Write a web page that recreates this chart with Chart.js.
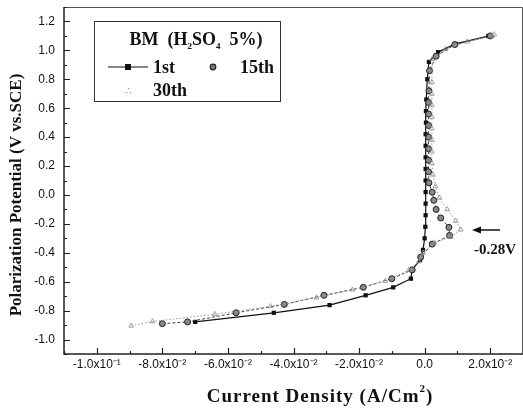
<!DOCTYPE html>
<html>
<head>
<meta charset="utf-8">
<script src="https://cdn.jsdelivr.net/npm/chart.js@4/dist/chart.umd.min.js"></script>
<style>
  html, body { margin: 0; padding: 0; background: #fff; }
  canvas { display: block; }
</style>
</head>
<body>
<canvas id="polChart" width="523" height="409"></canvas>
<script>
(function() {
    'use strict';

    // tick positions and labels
    const xTicks = [-0.1, -0.08, -0.06, -0.04, -0.02, 0, 0.02];
    const xTickLabels = ['-1.0x10\u207B\u00B9', '-8.0x10\u207B\u00B2', '-6.0x10\u207B\u00B2', '-4.0x10\u207B\u00B2', '-2.0x10\u207B\u00B2', '0.0', '2.0x10\u207B\u00B2'];
    const xMinorTicks = [-0.11, -0.09, -0.07, -0.05, -0.03, -0.01, 0.01, 0.03];
    const yTicks = [-1.0, -0.8, -0.6, -0.4, -0.2, 0.0, 0.2, 0.4, 0.6, 0.8, 1.0, 1.2];
    const yTickLabels = ['-1.0', '-0.8', '-0.6', '-0.4', '-0.2', '0.0', '0.2', '0.4', '0.6', '0.8', '1.0', '1.2'];
    const yMinorTicks = [-1.1, -0.9, -0.7, -0.5, -0.3, -0.1, 0.1, 0.3, 0.5, 0.7, 0.9, 1.1, 1.3];

    // 1st scan (A/cm2, V vs SCE)
    const firstX = [-0.070, -0.046, -0.029, -0.018, -0.0096, -0.0042, -0.0038, -0.0014, -0.0005, 0.0000, 0.0002, 0.0003, 0.0003, 0.0003, 0.0003, 0.0003, 0.0003, 0.0003, 0.0003, 0.0004, 0.0004, 0.0005, 0.0008, 0.0013, 0.0041, 0.0094, 0.0194];
    const firstY = [-0.878, -0.815, -0.762, -0.694, -0.639, -0.579, -0.518, -0.45, -0.38, -0.30, -0.22, -0.14, -0.06, 0.02, 0.10, 0.18, 0.26, 0.34, 0.42, 0.50, 0.58, 0.66, 0.80, 0.92, 0.988, 1.045, 1.099];

    // 15th scan
    const fifteenthX = [-0.080, -0.0723, -0.0575, -0.0428, -0.0307, -0.0187, -0.010, -0.0038, -0.0012, 0.0023, 0.0076, 0.0074, 0.0049, 0.0035, 0.0028, 0.0023, 0.0013, 0.0012, 0.0012, 0.0012, 0.0012, 0.0012, 0.0012, 0.0012, 0.0013, 0.0015, 0.0035, 0.0092, 0.0200];
    const fifteenthY = [-0.89, -0.878, -0.815, -0.757, -0.694, -0.639, -0.579, -0.518, -0.43, -0.34, -0.28, -0.224, -0.159, -0.10, -0.037, 0.019, 0.084, 0.16, 0.24, 0.32, 0.40, 0.48, 0.56, 0.64, 0.72, 0.86, 0.96, 1.04, 1.10];

    // 30th scan
    const thirtiethX = [-0.0895, -0.083, -0.064, -0.047, -0.033, -0.022, -0.012, -0.0048, -0.0017, -0.0005, 0.003, 0.008, 0.011, 0.0095, 0.0069, 0.0045, 0.0033, 0.0025, 0.0022, 0.0022, 0.0022, 0.0022, 0.0022, 0.0022, 0.0022, 0.0022, 0.0023, 0.0064, 0.013, 0.0206, 0.0212];
    const thirtiethY = [-0.905, -0.875, -0.825, -0.77, -0.71, -0.655, -0.595, -0.52, -0.46, -0.40, -0.33, -0.29, -0.24, -0.18, -0.10, -0.02, 0.06, 0.14, 0.22, 0.30, 0.38, 0.46, 0.54, 0.62, 0.70, 0.78, 0.94, 1.01, 1.06, 1.10, 1.11];

    function toPoints(xs, ys) {
        return xs.map((x, i) => ({ x: x, y: ys[i] }));
    }

    const tickFont = { family: '"Liberation Sans", Arial, sans-serif', size: 12 };
    const serif = '"Liberation Serif", "Times New Roman", serif';

    const decorPlugin = {
        id: 'decor',
        afterDraw(chart) {
            const c = chart.ctx;
            const area = chart.chartArea;
            const xs = chart.scales.x;
            const ys = chart.scales.y;
            c.save();

            // frame
            c.strokeStyle = '#222';
            c.lineWidth = 1.5;
            c.beginPath();
            c.moveTo(area.left, area.top);
            c.lineTo(area.left, area.bottom);
            c.lineTo(area.right, area.bottom);
            c.stroke();
            c.lineWidth = 1;
            c.strokeStyle = '#555';
            c.beginPath();
            c.moveTo(area.left, area.top + 0.5);
            c.lineTo(area.right - 0.5, area.top + 0.5);
            c.lineTo(area.right - 0.5, area.bottom);
            c.stroke();

            // inward tick marks
            c.strokeStyle = '#222';
            c.lineWidth = 1.2;
            c.beginPath();
            xTicks.forEach(v => {
                const px = Math.round(xs.getPixelForValue(v)) + 0.5;
                c.moveTo(px, area.bottom); c.lineTo(px, area.bottom - 6);
            });
            xMinorTicks.forEach(v => {
                const px = Math.round(xs.getPixelForValue(v)) + 0.5;
                c.moveTo(px, area.bottom); c.lineTo(px, area.bottom - 3);
            });
            yTicks.forEach(v => {
                const py = Math.round(ys.getPixelForValue(v)) + 0.5;
                c.moveTo(area.left, py); c.lineTo(area.left + 6, py);
            });
            yMinorTicks.forEach(v => {
                const py = Math.round(ys.getPixelForValue(v)) + 0.5;
                c.moveTo(area.left, py); c.lineTo(area.left + 3, py);
            });
            c.stroke();

            // axis titles
            c.fillStyle = '#111';
            c.textAlign = 'left';
            c.textBaseline = 'alphabetic';
            c.letterSpacing = '1px';
            c.font = 'bold 19px ' + serif;
            const part1 = 'Current Density (A/Cm';
            const w1 = c.measureText(part1).width;
            c.font = 'bold 11px ' + serif;
            const w2 = c.measureText('2').width;
            c.font = 'bold 19px ' + serif;
            const w3 = c.measureText(')').width;
            let tx = 320 - (w1 + w2 + w3) / 2;
            c.fillText(part1, tx, 402);
            c.font = 'bold 11px ' + serif;
            c.fillText('2', tx + w1, 392);
            c.font = 'bold 19px ' + serif;
            c.fillText(')', tx + w1 + w2, 402);
            c.letterSpacing = '0px';

            c.save();
            c.translate(21, 195);
            c.rotate(-Math.PI / 2);
            c.textAlign = 'center';
            c.font = 'bold 17px ' + serif;
            c.fillText('Polarization Potential (V vs.SCE)', 0, 0);
            c.restore();

            // legend box
            c.fillStyle = '#fff';
            c.fillRect(94, 21, 186, 80);
            c.strokeStyle = '#333';
            c.lineWidth = 1;
            c.strokeRect(94.5, 21.5, 186, 80);

            c.fillStyle = '#111';
            c.textAlign = 'left';
            const big = 'bold 18px ' + serif;
            const small = 'bold 9px ' + serif;
            const runs = [['BM  (H', big, 0], ['2', small, 4], ['SO', big, 0], ['4', small, 4], ['  5%)', big, 0]];
            let total = 0;
            runs.forEach(r => { c.font = r[1]; total += c.measureText(r[0]).width; });
            let lx = 196 - total / 2;
            runs.forEach(r => {
                c.font = r[1];
                c.fillText(r[0], lx, 45 + r[2]);
                lx += c.measureText(r[0]).width;
            });

            // legend entries
            c.strokeStyle = '#111';
            c.lineWidth = 1.2;
            c.beginPath();
            c.moveTo(108, 67); c.lineTo(148, 67);
            c.stroke();
            c.fillStyle = '#111';
            c.fillRect(125, 64, 6, 6);

            c.fillStyle = '#777';
            c.strokeStyle = '#222';
            c.beginPath();
            c.arc(213, 67, 2.8, 0, Math.PI * 2);
            c.fill(); c.stroke();

            c.fillStyle = '#999';
            [[128, 88], [126, 92], [130, 92]].forEach(p => c.fillRect(p[0], p[1], 1.2, 1.2));

            c.fillStyle = '#111';
            c.font = big;
            c.fillText('1st', 153, 73);
            c.fillText('15th', 240, 73);
            c.fillText('30th', 153, 96);

            // -0.28V annotation
            c.strokeStyle = '#111';
            c.lineWidth = 1.5;
            c.beginPath();
            c.moveTo(500, 230); c.lineTo(478, 230);
            c.stroke();
            c.beginPath();
            c.moveTo(472, 230); c.lineTo(481, 226.5); c.lineTo(481, 233.5);
            c.closePath();
            c.fillStyle = '#111';
            c.fill();
            c.font = 'bold 15px ' + serif;
            c.fillText('-0.28V', 474, 254);

            c.restore();
        }
    };

    const ctx = document.getElementById('polChart');
    new Chart(ctx, {
        type: 'scatter',
        data: {
            datasets: [
                {
                    label: '30th',
                    data: toPoints(thirtiethX, thirtiethY),
                    showLine: true,
                    borderColor: '#9a9a9a',
                    borderWidth: 1,
                    borderDash: [1.5, 2],
                    pointStyle: 'triangle',
                    pointRadius: 2.8,
                    pointBorderWidth: 0.8,
                    pointBorderColor: '#8a8a8a',
                    pointBackgroundColor: 'rgba(255,255,255,0)'
                },
                {
                    label: '15th',
                    data: toPoints(fifteenthX, fifteenthY),
                    showLine: true,
                    borderColor: '#444',
                    borderWidth: 1,
                    borderDash: [3, 2],
                    pointStyle: 'circle',
                    pointRadius: 3,
                    pointBorderWidth: 1,
                    pointBorderColor: '#222',
                    pointBackgroundColor: '#888'
                },
                {
                    label: '1st',
                    data: toPoints(firstX, firstY),
                    showLine: true,
                    borderColor: '#111',
                    borderWidth: 1.2,
                    pointStyle: 'rect',
                    pointRadius: 3,
                    pointBorderWidth: 0,
                    pointBackgroundColor: '#111'
                }
            ]
        },
        options: {
            responsive: false,
            animation: false,
            layout: { autoPadding: false, padding: { top: 7, right: 0, left: 0, bottom: 0 } },
            plugins: {
                legend: { display: false },
                tooltip: { enabled: false }
            },
            scales: {
                x: {
                    type: 'linear',
                    min: -0.11,
                    max: 0.03,
                    afterBuildTicks: s => { s.ticks = xTicks.map(v => ({ value: v })); },
                    afterFit: s => { s.height = 55; s.paddingLeft = 0; s.paddingRight = 0; },
                    grid: { display: false, drawTicks: false },
                    border: { display: false },
                    ticks: {
                        autoSkip: false,
                        maxRotation: 0,
                        padding: 3,
                        color: '#111',
                        font: tickFont,
                        callback: (v, i) => xTickLabels[i]
                    }
                },
                y: {
                    type: 'linear',
                    min: -1.1,
                    max: 1.3,
                    afterBuildTicks: s => { s.ticks = yTicks.map(v => ({ value: v })); },
                    afterFit: s => { s.width = 64; s.paddingTop = 0; s.paddingBottom = 0; },
                    grid: { display: false, drawTicks: false },
                    border: { display: false },
                    ticks: {
                        autoSkip: false,
                        padding: 9,
                        color: '#111',
                        font: tickFont,
                        callback: (v, i) => yTickLabels[i]
                    }
                }
            }
        },
        plugins: [decorPlugin]
    });

})();
</script>
</body>
</html>
